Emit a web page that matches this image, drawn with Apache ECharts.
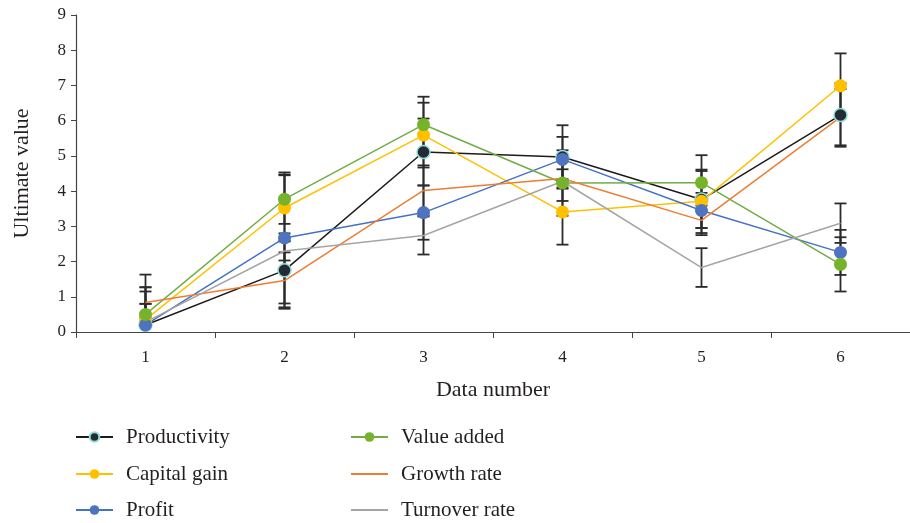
<!DOCTYPE html>
<html>
<head>
<meta charset="utf-8">
<script src="https://cdn.jsdelivr.net/npm/echarts@6/dist/echarts.min.js"></script>
<style>html,body{margin:0;padding:0;background:#fff}#chart{width:910px;height:523px}</style>
</head>
<body>
<div id="chart"></div>
<script>
const categories = ['1', '2', '3', '4', '5', '6'];
const yTicks = [0, 1, 2, 3, 4, 5, 6, 7, 8, 9];

const productivity = [0.20, 1.75, 5.11, 4.97, 3.76, 6.16];
const capitalGain  = [0.35, 3.52, 5.59, 3.41, 3.71, 6.99];
const profit       = [0.20, 2.67, 3.39, 4.90, 3.45, 2.26];
const valueAdded   = [0.50, 3.77, 5.89, 4.23, 4.24, 1.92];
const growthRate   = [0.84, 1.46, 4.02, 4.36, 3.17, 6.10];
const turnoverRate = [0.28, 2.30, 2.74, 4.28, 1.83, 3.09];

const productivityErr = [1.07, 1.05, 0.95, 0.90, 0.81, 0.90];
const capitalGainErr  = [0.80, 0.93, 0.92, 0.93, 0.90, 0.92];
const profitErr       = [1.43, 1.86, 0.77, 0.64, 0.50, 0.64];
const valueAddedErr   = [0.30, 0.70, 0.79, 0.93, 0.78, 0.77];
const growthRateErr   = [0.43, 0.80, 0.71, 0.26, 0.42, 0.80];
const turnoverRateErr = [0.52, 0.27, 0.54, 0.56, 0.55, 0.56];

const FONT = 'Liberation Serif';

const seriesDefs = [
  {name: 'Productivity', data: productivity, err: productivityErr, color: '#1b1b1b', marker: {color: '#252a33', borderColor: '#8fdcd5', borderWidth: 1.5}},
  {name: 'Capital gain', data: capitalGain, err: capitalGainErr, color: '#ffc000', marker: {color: '#ffc000'}},
  {name: 'Profit', data: profit, err: profitErr, color: '#4472c4', marker: {color: '#4f73be'}},
  {name: 'Value added', data: valueAdded, err: valueAddedErr, color: '#70ad47', marker: {color: '#76b22a'}},
  {name: 'Growth rate', data: growthRate, err: growthRateErr, color: '#ed7d31', marker: null},
  {name: 'Turnover rate', data: turnoverRate, err: turnoverRateErr, color: '#a5a5a5', marker: null}
];

function errRender(params, api) {
  const x = api.value(0);
  const lo = api.coord([x, api.value(1)]);
  const hi = api.coord([x, api.value(2)]);
  const half = 6;
  const style = {stroke: '#2b2b2b', lineWidth: 1.8};
  return {
    type: 'group',
    children: [
      {type: 'line', shape: {x1: lo[0], y1: lo[1], x2: hi[0], y2: hi[1]}, style: style},
      {type: 'line', shape: {x1: lo[0] - half, y1: lo[1], x2: lo[0] + half, y2: lo[1]}, style: style},
      {type: 'line', shape: {x1: hi[0] - half, y1: hi[1], x2: hi[0] + half, y2: hi[1]}, style: style}
    ]
  };
}

const series = [];
seriesDefs.forEach(function (d) {
  series.push({
    type: 'custom',
    name: d.name + ' error',
    renderItem: errRender,
    clip: true,
    z: 1,
    silent: true,
    data: d.data.map(function (v, i) { return [i, v - d.err[i], v + d.err[i]]; })
  });
});
seriesDefs.forEach(function (d) {
  series.push({
    type: 'line',
    name: d.name,
    data: d.data,
    z: 3,
    symbol: d.marker ? 'circle' : 'none',
    symbolSize: 13,
    showSymbol: !!d.marker,
    lineStyle: {color: d.color, width: 1.5},
    itemStyle: d.marker ? Object.assign({}, d.marker) : {color: d.color},
    color: d.color
  });
});

const legendPos = [
  {name: 'Productivity', left: 75, top: 426},
  {name: 'Capital gain', left: 75, top: 463},
  {name: 'Profit', left: 75, top: 499},
  {name: 'Value added', left: 350, top: 426},
  {name: 'Growth rate', left: 350, top: 463},
  {name: 'Turnover rate', left: 350, top: 499}
];
const legends = legendPos.map(function (p) {
  const def = seriesDefs.find(function (d) { return d.name === p.name; });
  const item = {name: p.name};
  if (!def.marker) item.itemStyle = {opacity: 0};
  return {
    data: [item],
    left: p.left, top: p.top,
    padding: 0,
    itemWidth: 37, itemHeight: 12,
    textStyle: {fontFamily: FONT, fontSize: 21, lineHeight: 22, color: '#231f20', padding: [0, 0, 0, 8]}
  };
});

const chart = echarts.init(document.getElementById('chart'), null, {renderer: 'canvas'});
chart.setOption({
  animation: false,
  backgroundColor: '#fff',
  grid: {left: 76, right: 0, top: 15, bottom: 191, containLabel: false},
  xAxis: {
    type: 'category',
    data: categories,
    boundaryGap: true,
    name: 'Data number',
    nameLocation: 'middle',
    nameGap: 47,
    nameTextStyle: {fontFamily: FONT, fontSize: 22, color: '#231f20'},
    axisLine: {lineStyle: {color: '#444', width: 1.2}},
    axisTick: {show: true, inside: false, length: 6, alignWithLabel: false, lineStyle: {color: '#444'}},
    axisLabel: {fontFamily: FONT, fontSize: 17, color: '#231f20', margin: 17},
    splitLine: {show: false}
  },
  yAxis: {
    type: 'value',
    min: yTicks[0],
    max: yTicks[yTicks.length - 1],
    interval: 1,
    name: 'Ultimate value',
    nameLocation: 'middle',
    nameGap: 43,
    nameRotate: 90,
    nameTextStyle: {fontFamily: FONT, fontSize: 22, color: '#231f20'},
    axisLine: {show: true, lineStyle: {color: '#444', width: 1.2}},
    axisTick: {show: true, inside: false, length: 5, lineStyle: {color: '#444'}},
    axisLabel: {fontFamily: FONT, fontSize: 17, color: '#231f20', margin: 10},
    splitLine: {show: false}
  },
  legend: legends,
  series: series
});
</script>
</body>
</html>
